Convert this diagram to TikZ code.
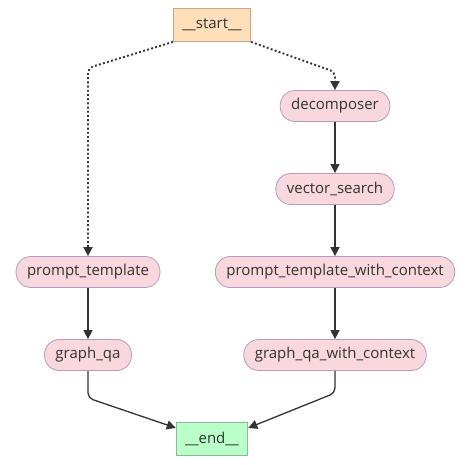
\documentclass[tikz,border=0pt]{standalone}
\usepackage{fontspec}
\setmainfont{Open Sans}
\usetikzlibrary{arrows.meta}
\definecolor{startfill}{HTML}{FFDFBA}
\definecolor{startline}{HTML}{C9A58F}
\definecolor{stepfill}{HTML}{F8D7DD}
\definecolor{stepline}{HTML}{B79AC2}
\definecolor{endfill}{HTML}{BAFFC9}
\definecolor{endline}{HTML}{8CB89A}
\definecolor{edgeline}{HTML}{333333}

\tikzset{
	stepnode/.style={draw=stepline, fill=stepfill, line width=0.8pt, rounded corners=15pt, minimum height=31pt, inner xsep=11pt, font=\fontsize{15}{17}\selectfont, text=black!80},
	termnode/.style={draw=#1line, fill=#1fill, line width=0.8pt, minimum height=33pt, inner xsep=9pt, font=\fontsize{15}{17}\selectfont, text=black!80},
	solid edge/.style={draw=edgeline, line width=1.3pt, -{Triangle[length=9pt, width=9pt]}},
	dotted edge/.style={draw=edgeline, line width=1.9pt, dash pattern=on 1.9pt off 2.3pt, -{Triangle[length=9pt, width=9pt]}, rounded corners=5pt}
}

\begin{document}
\begin{tikzpicture}[x=1pt, y=-1pt]
		%%%%% START %%%%%
		\useasboundingbox (0, 0) rectangle (474, 464);
		
		\node[termnode=start] (start) at (212, 25) {\_\_start\_\_};
		
		\node[stepnode] (decomposer) at (335, 106) {decomposer};
		\node[stepnode] (vector_search) at (335, 189) {vector\_search};
		\node[stepnode] (prompt_template_with_context) at (335, 272) {prompt\_template\_with\_context};
		\node[stepnode] (graph_qa_with_context) at (335, 355) {graph\_qa\_with\_context};
		
		\node[stepnode] (prompt_template) at (88, 272) {prompt\_template};
		\node[stepnode] (graph_qa) at (88, 355) {graph\_qa};
		
		\node[termnode=end] (end) at (212, 439) {\_\_end\_\_};
		
		\coordinate (left_bend) at (88, 68);
		\coordinate (right_bend) at (335, 72);
		\coordinate (left_drop) at (88, 398);
		\coordinate (right_drop) at (335, 393);
		
		\draw[dotted edge] (start.south west) -- (left_bend) -- (prompt_template.north);
		\draw[dotted edge] (start.south east) -- (right_bend) -- (decomposer.north);
		
		\draw[solid edge] (decomposer) -- (vector_search);
		\draw[solid edge] (vector_search) -- (prompt_template_with_context);
		\draw[solid edge] (prompt_template_with_context) -- (graph_qa_with_context);
		\draw[solid edge] (prompt_template) -- (graph_qa);
		
		\draw[solid edge, rounded corners=5pt] (graph_qa.south) -- (left_drop) -- (end.163);
		\draw[solid edge, rounded corners=5pt] (graph_qa_with_context.south) -- (right_drop) -- (end.17);
		
		%%%%% END %%%%%
	\end{tikzpicture}
\end{document}
